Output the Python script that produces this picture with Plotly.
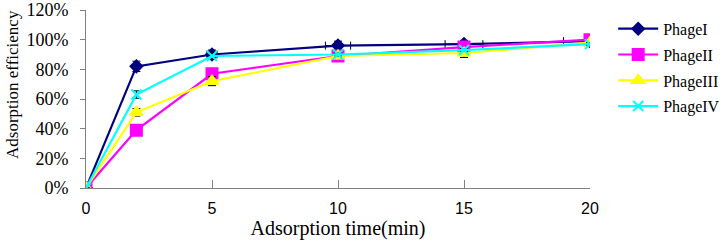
import plotly.graph_objects as go

time = [0, 2, 5, 10, 15, 20]
names = ["PhageI", "PhageII", "PhageIII", "PhageIV"]
phage1 = [0, 82, 90, 96, 97, 99]
phage2 = [0, 39, 77, 89, 95, 100]
phage3 = [0, 51, 72, 89, 91, 98]
phage4 = [0, 63, 89, 90, 93, 97]
err_y1 = [0, 3.5, 3, 3, 2.5, 3]
err_y2 = [0, 0, 3, 2, 2, 2]
err_y3 = [0, 2.5, 3, 2, 3, 2]
err_y4 = [0, 2.5, 2, 1, 1, 1]
err_x1 = [0, 0, 0.2, 0.5, 0.75, 1.05]
y_ticks = [0, 20, 40, 60, 80, 100, 120]
x_ticks = [0, 5, 10, 15, 20]

series = [phage1, phage2, phage3, phage4]
erry = [err_y1, err_y2, err_y3, err_y4]
colors = ["#000080", "#FF00FF", "#FFFF00", "#00FFFF"]
symbols = ["diamond", "square", "triangle-up", "x-thin"]
msizes = [9, 11, 11, 10]

fig = go.Figure()
for i, (nm, ys) in enumerate(zip(names, series)):
    kw = {}
    if i == 0:
        kw["error_x"] = dict(type="data", array=err_x1, color="black", thickness=1, width=4)
    fig.add_trace(go.Scatter(
        x=time, y=ys, name=nm, mode="lines+markers", legendgroup=nm,
        line=dict(color=colors[i], width=2.2),
        marker=dict(symbol=symbols[i], size=msizes[i], color=colors[i],
                    line=dict(color=colors[i], width=2)),
        error_y=dict(type="data", array=erry[i], color="black", thickness=1, width=4),
        **kw,
    ))

serif = "Liberation Serif"
fig.update_layout(
    width=722, height=246,
    margin=dict(l=86, r=132, t=10, b=58, autoexpand=False),
    paper_bgcolor="white", plot_bgcolor="white",
    showlegend=True,
    legend=dict(x=1.046, y=0.99, xanchor="left", yanchor="top",
                font=dict(family=serif, size=16, color="black"),
                tracegroupgap=2, itemwidth=40, borderwidth=0,
                bgcolor="rgba(0,0,0,0)"),
    xaxis=dict(range=[0, 20], tickvals=x_ticks, ticktext=[str(v) for v in x_ticks],
               showgrid=False, zeroline=False, showline=True, linecolor="#808080", linewidth=1,
               ticks="inside", ticklen=8, tickcolor="#808080", automargin=False,
               ticklabelstandoff=6, ticklabeloverflow="allow",
               tickfont=dict(family="Liberation Sans", size=16, color="black"),
               title=dict(text="Adsorption time(min)", font=dict(family=serif, size=20, color="black"), standoff=0)),
    yaxis=dict(range=[0, 120], tickvals=y_ticks, ticktext=[f"{v}%" for v in y_ticks],
               showgrid=False, zeroline=False, showline=True, linecolor="#808080", linewidth=1,
               ticks="outside", ticklen=5, tickcolor="#808080", automargin=False,
               ticklabelstandoff=8, ticklabeloverflow="allow",
               tickfont=dict(family=serif, size=18, color="black")),
    annotations=[dict(text="Adsorption efficiency", textangle=-90, showarrow=False,
                      xref="paper", yref="paper", x=(12 - 86) / 504, y=(188 - 85) / 178,
                      xanchor="center", yanchor="middle",
                      font=dict(family=serif, size=17, color="black"))],
)
fig.write_html("out.html", config={"displayModeBar": False},
               post_script="document.body.style.margin='0';document.body.style.overflow='hidden';")
